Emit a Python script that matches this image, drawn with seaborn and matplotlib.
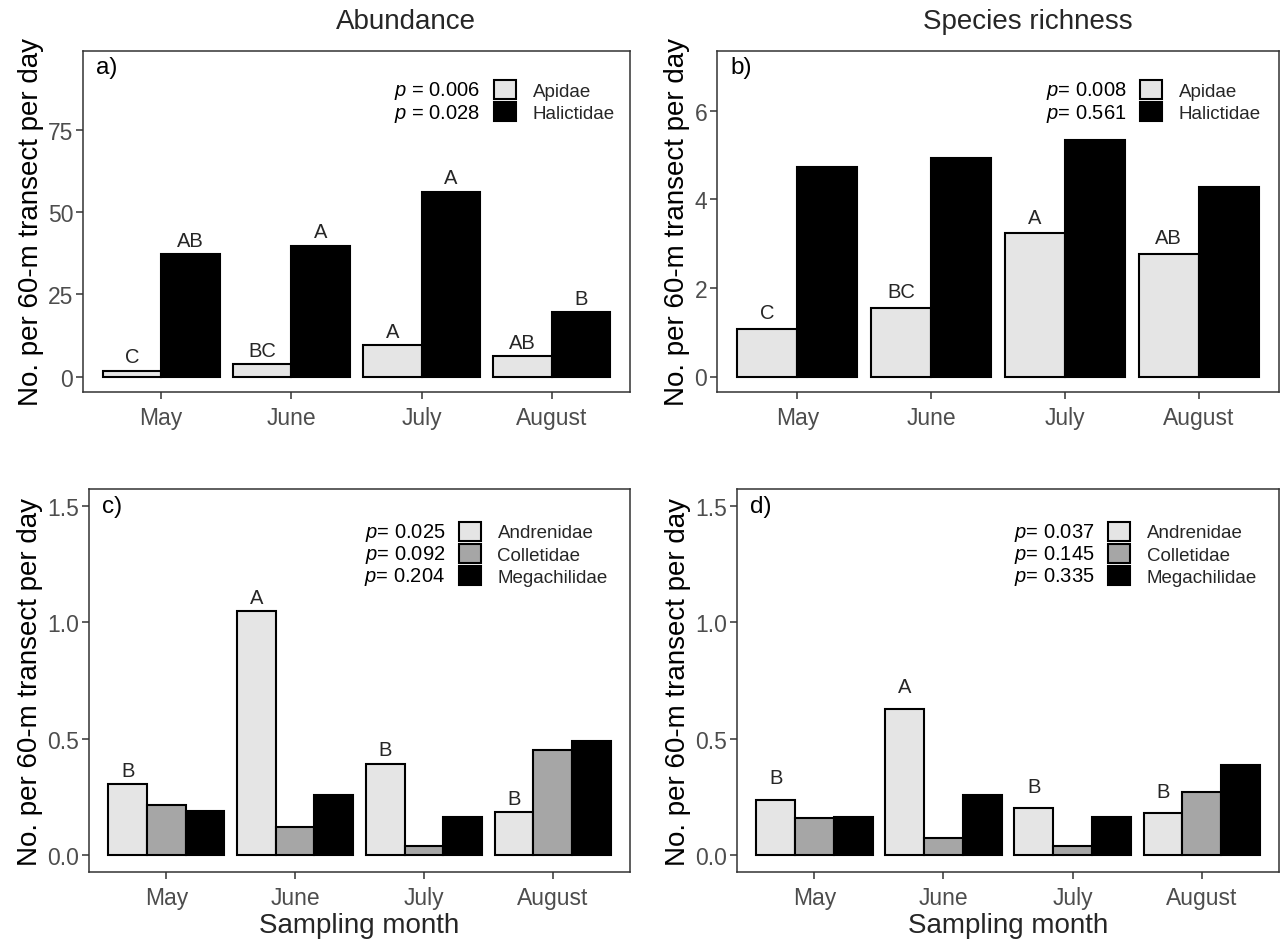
import matplotlib
matplotlib.use('Agg')
import matplotlib.pyplot as plt
import pandas as pd
import seaborn as sns
from matplotlib.patches import Patch

months = ['May', 'June', 'July', 'August']

# a) abundance, Apidae / Halictidae
abund_apidae = [1.8, 3.8, 9.6, 6.1]
abund_halictidae = [37.2, 39.8, 56.2, 19.5]
abund_apidae_letters = ['C', 'BC', 'A', 'AB']
abund_halictidae_letters = ['AB', 'A', 'A', 'B']
abund_p2 = ['p = 0.006', 'p = 0.028']

# b) species richness, Apidae / Halictidae
rich_apidae = [1.07, 1.54, 3.23, 2.77]
rich_halictidae = [4.73, 4.93, 5.34, 4.27]
rich_apidae_letters = ['C', 'BC', 'A', 'AB']
rich_p2 = ['p= 0.008', 'p= 0.561']

# c) abundance, Andrenidae / Colletidae / Megachilidae
abund_andrenidae = [0.304, 1.05, 0.392, 0.182]
abund_colletidae = [0.215, 0.118, 0.039, 0.452]
abund_megachilidae = [0.187, 0.258, 0.162, 0.488]
abund_andrenidae_letters = ['B', 'A', 'B', 'B']
abund_p3 = ['p= 0.025', 'p= 0.092', 'p= 0.204']

# d) species richness, Andrenidae / Colletidae / Megachilidae
rich_andrenidae = [0.236, 0.628, 0.200, 0.179]
rich_colletidae = [0.158, 0.073, 0.036, 0.269]
rich_megachilidae = [0.162, 0.255, 0.162, 0.384]
rich_andrenidae_letters = ['B', 'A', 'B', 'B']
rich_p3 = ['p= 0.037', 'p= 0.145', 'p= 0.335']

fam2 = ['Apidae', 'Halictidae']
fam3 = ['Andrenidae', 'Colletidae', 'Megachilidae']
pal2 = {'Apidae': '#E5E5E5', 'Halictidae': '#000000'}
pal3 = {'Andrenidae': '#E5E5E5', 'Colletidae': '#A6A6A6', 'Megachilidae': '#000000'}

sns.set_theme(style='white')
plt.rcParams['font.family'] = ['Liberation Sans', 'DejaVu Sans']
plt.rcParams['mathtext.fontset'] = 'custom'
plt.rcParams['mathtext.it'] = 'Liberation Sans:italic'
plt.rcParams['mathtext.rm'] = 'Liberation Sans'


def long_df(series, names):
    rows = []
    for name, vals in zip(names, series):
        for m, v in zip(months, vals):
            rows.append({'month': m, 'family': name, 'value': v})
    return pd.DataFrame(rows)


W, H = 1287, 945
fig = plt.figure(figsize=(W / 100, H / 100), dpi=100)


def make_ax(x0, y0, x1, y1):
    return fig.add_axes([x0 / W, 1 - y1 / H, (x1 - x0) / W, (y1 - y0) / H])


ax_a = make_ax(83, 52, 630, 393)
ax_b = make_ax(717, 52, 1279, 393)
ax_c = make_ax(89, 490, 630, 873)
ax_d = make_ax(737, 490, 1279, 873)


def draw_panel(ax, df, names, pal, ylim, yticks, ytl, tag, key_x):
    sns.barplot(data=df, x='month', y='value', hue='family', hue_order=names,
                order=months, palette=pal, width=0.9, gap=0,
                edgecolor='black', linewidth=1.5, legend=False, ax=ax)
    ax.set_xlim(-0.6, 3.6)
    ax.set_ylim(*ylim)
    ax.set_yticks(yticks)
    ax.set_yticklabels(ytl)
    ax.set_xlabel('')
    ax.set_ylabel('No. per 60-m transect per day', fontsize=20, color='black', labelpad=3)
    for s in ax.spines.values():
        s.set_color('#333333')
        s.set_linewidth(1.1)
    ax.tick_params(axis='both', bottom=True, left=True, colors='#333333', length=5,
                   width=1.1, labelsize=16.5, labelcolor='#4D4D4D', pad=2)
    ax.tick_params(axis='x', pad=5)
    ax.text(0.024, 0.985, tag, transform=ax.transAxes, fontsize=17.5,
            ha='left', va='top', color='black')
    handles = [Patch(facecolor=pal[n], edgecolor='black', linewidth=1.5) for n in names]
    leg = ax.legend(handles, names, loc='upper left', bbox_to_anchor=(key_x, 0.915),
                    frameon=False, fontsize=13.5, handlelength=1.15, handleheight=1.2,
                    labelspacing=0.12, handletextpad=0.9, borderpad=0, borderaxespad=0)
    return leg


panels = [
    (ax_a, long_df([abund_apidae, abund_halictidae], fam2), fam2, pal2,
     (-4.7, 98.9), [0, 25, 50, 75], ['0', '25', '50', '75'], 'a)', 0.752, abund_p2),
    (ax_b, long_df([rich_apidae, rich_halictidae], fam2), fam2, pal2,
     (-0.35, 7.35), [0, 2, 4, 6], ['0', '2', '4', '6'], 'b)', 0.753, rich_p2),
    (ax_c, long_df([abund_andrenidae, abund_colletidae, abund_megachilidae], fam3), fam3, pal3,
     (-0.075, 1.575), [0, 0.5, 1.0, 1.5], ['0.0', '0.5', '1.0', '1.5'], 'c)', 0.684, abund_p3),
    (ax_d, long_df([rich_andrenidae, rich_colletidae, rich_megachilidae], fam3), fam3, pal3,
     (-0.075, 1.575), [0, 0.5, 1.0, 1.5], ['0.0', '0.5', '1.0', '1.5'], 'd)', 0.685, rich_p3),
]

legends = []
for p in panels:
    legends.append((p[0], draw_panel(*p[:9]), p[9]))

# significance letters above bars
ax_a.bar_label(ax_a.containers[0], labels=abund_apidae_letters, padding=3, fontsize=14.5)
ax_a.bar_label(ax_a.containers[1], labels=abund_halictidae_letters, padding=3, fontsize=14.5)
ax_b.bar_label(ax_b.containers[0], labels=rich_apidae_letters, padding=5, fontsize=14.5)
ax_c.bar_label(ax_c.containers[0], labels=abund_andrenidae_letters, padding=3, fontsize=14.5)
ax_d.bar_label(ax_d.containers[0], labels=rich_andrenidae_letters, padding=9, fontsize=14.5)

ax_c.set_xlabel('Sampling month', fontsize=20, labelpad=2)
ax_d.set_xlabel('Sampling month', fontsize=20, labelpad=2)
fig.text(406 / W, 1 - 22 / H, 'Abundance', fontsize=20, ha='center', va='center')
fig.text(1028 / W, 1 - 22 / H, 'Species richness', fontsize=20, ha='center', va='center')

# p-values to the left of legend keys
fig.canvas.draw()
for ax, leg, pv in legends:
    for txt, hd, ptxt in zip(leg.get_texts(), leg.legend_handles, pv):
        tb = txt.get_window_extent()
        hb = hd.get_window_extent()
        label = ptxt.replace('p', '$p$', 1)
        fig.text((hb.x0 - 14) / W, ((tb.y0 + tb.y1) / 2 + 1) / H, label,
                 ha='right', va='center', fontsize=14.5, color='black')

fig.savefig('out.png', dpi=100)
